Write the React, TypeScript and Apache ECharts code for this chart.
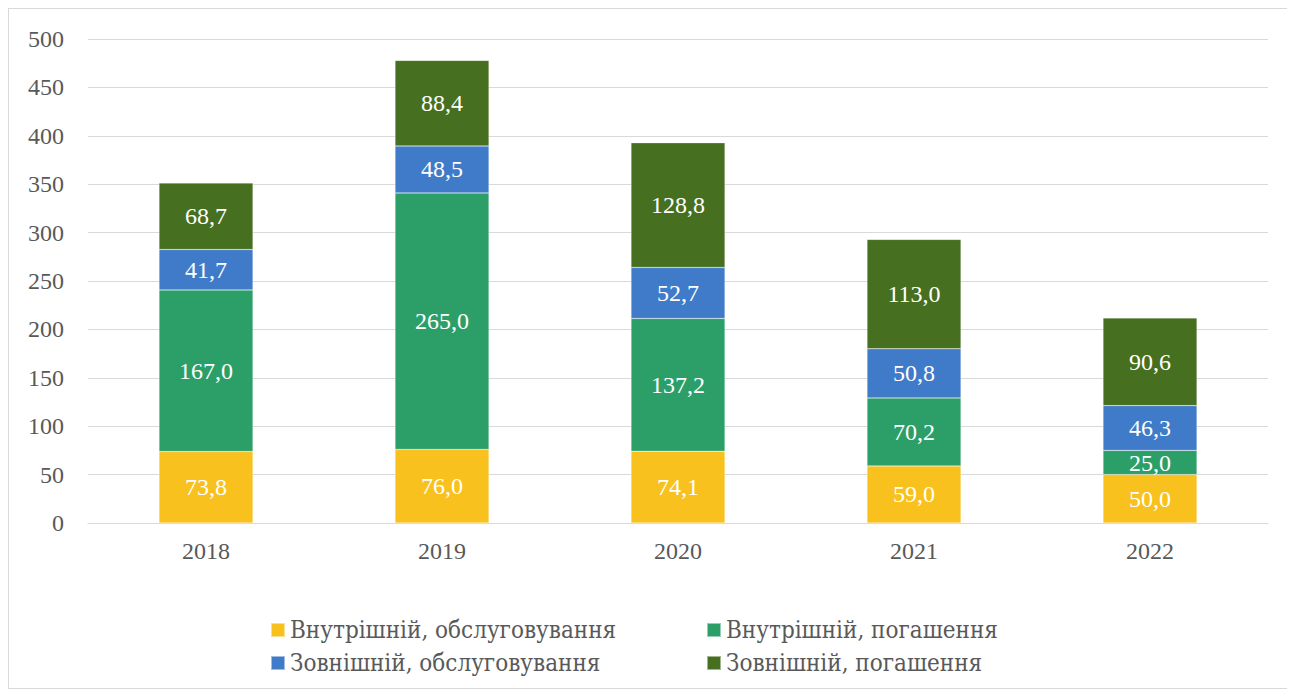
import React, { useEffect, useRef } from "react";
import * as echarts from "echarts";

const categories = ["2018", "2019", "2020", "2021", "2022"];
const seriesNames = [
  "Внутрішній, обслуговування",
  "Внутрішній, погашення",
  "Зовнішній, обслуговування",
  "Зовнішній, погашення",
];
const domesticService = [73.8, 76.0, 74.1, 59.0, 50.0];
const domesticRepay = [167.0, 265.0, 137.2, 70.2, 25.0];
const externalService = [41.7, 48.5, 52.7, 50.8, 46.3];
const externalRepay = [68.7, 88.4, 128.8, 113.0, 90.6];
const colors = ["#F9C11E", "#2C9F68", "#3F7BC9", "#466F1F"];

const FONT = "'Liberation Serif', 'DejaVu Serif', serif";
const LEGEND_FONT = "'DejaVu Serif Condensed', 'Liberation Serif', serif";

export default function App() {
  const ref = useRef<HTMLDivElement>(null);
  useEffect(() => {
    if (!ref.current) return;
    const chart = echarts.init(ref.current, undefined, { renderer: "svg" });
    const data = [domesticService, domesticRepay, externalService, externalRepay];
    const legendPos = [
      { left: 256, top: 604 },
      { left: 692, top: 604 },
      { left: 256, top: 637 },
      { left: 692, top: 637 },
    ];
    chart.setOption({
      animation: false,
      grid: { left: 79, top: 30, width: 1180, height: 484, containLabel: false },
      legend: seriesNames.map((n, i) => ({
        data: [n],
        left: legendPos[i].left,
        top: legendPos[i].top,
        itemWidth: 14,
        itemHeight: 14,
        itemGap: 6,
        icon: "rect",
        textStyle: { fontFamily: LEGEND_FONT, fontSize: 24, color: "#595959" },
      })),
      xAxis: {
        type: "category",
        data: categories,
        axisLine: { lineStyle: { color: "#d9d9d9" } },
        axisTick: { show: false },
        axisLabel: { color: "#595959", fontFamily: FONT, fontSize: 24, margin: 16 },
      },
      yAxis: {
        type: "value",
        min: 0,
        max: 500,
        interval: 50,
        axisLine: { show: false },
        axisTick: { show: false },
        splitLine: { lineStyle: { color: "#d9d9d9", width: 1 } },
        axisLabel: { color: "#595959", fontFamily: FONT, fontSize: 24, margin: 24 },
      },
      series: seriesNames.map((n, i) => ({
        name: n,
        type: "bar",
        stack: "total",
        barWidth: 94,
        data: data[i],
        itemStyle: { color: colors[i], borderColor: "rgba(255,255,255,0.5)", borderWidth: 0.5 },
        label: {
          show: true,
          position: "inside",
          color: "#ffffff",
          fontFamily: FONT,
          fontSize: 24,
          formatter: (p: any) => Number(p.value).toFixed(1).replace(".", ","),
        },
      })),
    });
    return () => chart.dispose();
  }, []);
  return (
    <div
      style={{
        width: 1285,
        height: 681,
        border: "1px solid #d9d9d9",
        boxSizing: "border-box",
        background: "#fff",
      }}
    >
      <div ref={ref} style={{ width: 1283, height: 679 }} />
    </div>
  );
}
